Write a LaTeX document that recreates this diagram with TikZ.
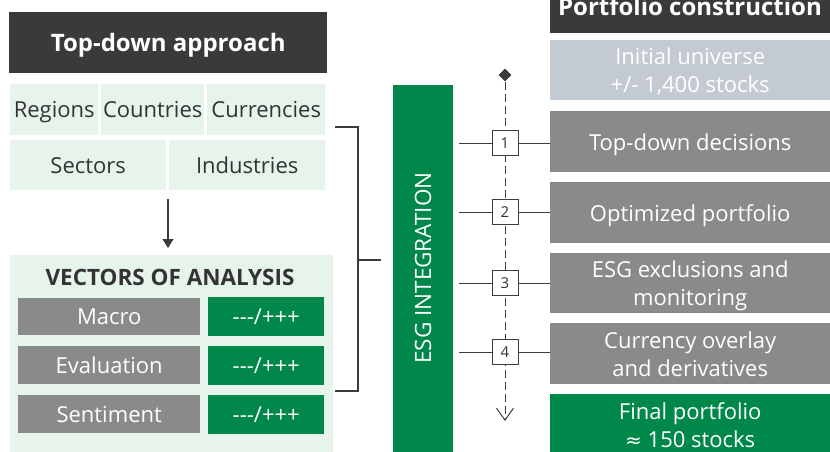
\documentclass[tikz,border=0pt]{standalone}
\usepackage{fontspec}
\setmainfont{Open Sans}
\newfontfamily\symf{DejaVu Sans}
\usetikzlibrary{arrows.meta,shapes.geometric}
\definecolor{hdr}{HTML}{3A3A3A}
\definecolor{lgreen}{HTML}{E6F4EC}
\definecolor{mgrey}{HTML}{8A8A8A}
\definecolor{dgreen}{HTML}{00874A}
\definecolor{lblue}{HTML}{C4CAD2}
\definecolor{txt}{HTML}{333333}
\definecolor{ln}{HTML}{3C3C3C}
\tikzset{
  rect/.style={anchor=north west,inner sep=0pt,align=center,text depth=0pt,font=\fontsize{22}{28}\selectfont},
  hdrbox/.style={rect,fill=hdr,text=white,font=\fontsize{24}{28}\selectfont\bfseries},
  lbox/.style={rect,fill=lgreen,text=txt},
  gbox/.style={rect,fill=mgrey,text=white},
  grbox/.style={rect,fill=dgreen,text=white},
  numbox/.style={draw=ln,line width=1pt,fill=white,minimum width=26pt,minimum height=25pt,inner sep=0pt,font=\fontsize{15}{17}\selectfont,text=txt},
  conn/.style={draw=ln,line width=1.2pt},
}
\newcommand\mypm{{-}{-}{-}/+++}
\begin{document}
\begin{tikzpicture}[x=1pt,y=-1pt]
\useasboundingbox (0,0) rectangle (830,451);
% left header
\node[hdrbox,minimum width=318pt,minimum height=61pt] (hl) at (9,12) {Top-down approach};
\node[lbox,minimum width=88pt,minimum height=51pt] (reg) at (10,84) {Regions};
\node[lbox,minimum width=103pt,minimum height=51pt] (cou) at (101,84) {Countries};
\node[lbox,minimum width=118pt,minimum height=51pt] (cur) at (207,84) {Currencies};
\node[lbox,minimum width=156pt,minimum height=50pt] (sec) at (10,140) {Sectors};
\node[lbox,minimum width=156pt,minimum height=50pt] (ind) at (169,140) {Industries};
% vectors
\node[lbox,minimum width=323pt,minimum height=200pt] (vec) at (10,255) {};
\node[text=txt,font=\fontsize{22.5}{26}\selectfont\bfseries,inner sep=0pt] (vt) at (170,277) {VECTORS OF ANALYSIS};
\coordinate (a0) at (168,199);
\draw[conn,-{Triangle[length=9pt,width=11pt]},shorten >=7pt] (a0) -- (a0 |- vec.north);
\node[gbox,minimum width=182pt,minimum height=37pt] (mac) at (18,298) {Macro};
\node[grbox,minimum width=116pt,minimum height=39pt] (macv) at (208,297) {\mypm};
\node[gbox,minimum width=182pt,minimum height=38pt] (eva) at (18,346) {Evaluation};
\node[grbox,minimum width=116pt,minimum height=39pt] (evav) at (208,346) {\mypm};
\node[gbox,minimum width=182pt,minimum height=38pt] (sen) at (18,395) {Sentiment};
\node[grbox,minimum width=116pt,minimum height=39pt] (senv) at (208,395) {\mypm};
% ESG bar
\node[rect,fill=dgreen,minimum width=60pt,minimum height=370pt] (esg) at (393,85) {};
\node[text=white,rotate=90,font=\fontsize{22.5}{26}\selectfont,inner sep=0pt] (esgt) at (423,268) {ESG INTEGRATION};
% bracket
\coordinate (b1) at (335,127);
\coordinate (b2) at (335,391);
\coordinate (bm) at (358,260);
\draw[conn] (b1) -| (bm) |- (b2);
\draw[conn] (bm) -- ([xshift=-12pt]esg.west |- bm);
% right header
\node[hdrbox,minimum width=280pt,minimum height=45pt] (hr) at (550,-12) {};
\node[text=white,font=\fontsize{24}{28}\selectfont\bfseries,inner sep=0pt] (hrt) at (690,6) {Portfolio construction};
\node[rect,fill=lblue,text=white,minimum width=280pt,minimum height=60pt] (ini) at (550,40) {Initial universe\\+/- 1,400 stocks};
\node[gbox,minimum width=280pt,minimum height=61pt] (s1) at (550,111) {Top-down decisions};
\node[gbox,minimum width=280pt,minimum height=61pt] (s2) at (550,182) {Optimized portfolio};
\node[gbox,minimum width=280pt,minimum height=60pt] (s3) at (550,253) {ESG exclusions and\\monitoring};
\node[gbox,minimum width=280pt,minimum height=61pt] (s4) at (550,323) {Currency overlay\\and derivatives};
\node[grbox,minimum width=280pt,minimum height=61pt] (s5) at (550,394) {Final portfolio\\{\symf\fontsize{20}{28}\selectfont ≈} 150 stocks};
% timeline
\node[diamond,fill=hdr,minimum width=13pt,minimum height=13pt,inner sep=0pt] (dia) at (505,75) {};
\coordinate (tend) at (505,421);
\draw[draw=ln,line width=1pt,dash pattern=on 8pt off 4pt,-{Straight Barb[length=12pt,width=17pt,line width=1pt]}] (dia.south) -- (tend);
\foreach \i/\yy in {1/143,2/212,3/283,4/352}{
  \node[numbox] (n\i) at (505,\yy) {\i};
  \coordinate (l\i) at (459,\yy);
  \draw[draw=ln,line width=1pt] (l\i) -- (n\i.west);
  \draw[draw=ln,line width=1pt] (n\i.east) -- (s\i.west |- n\i);
}
\end{tikzpicture}
\end{document}
